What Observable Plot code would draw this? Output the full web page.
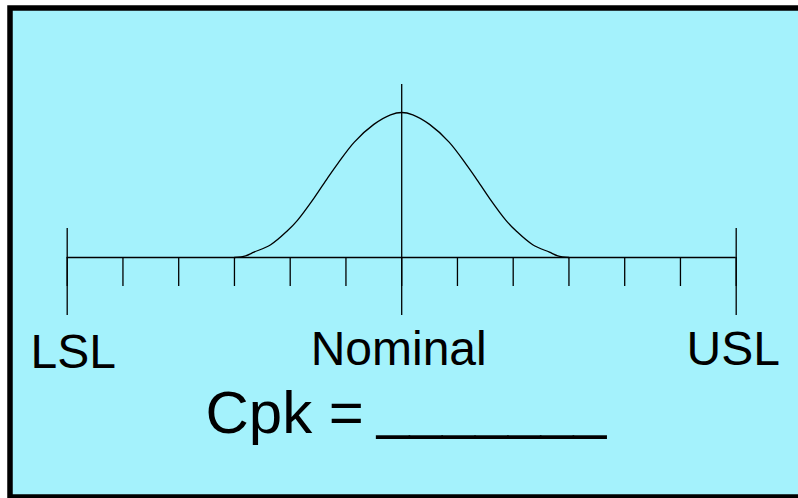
<!DOCTYPE html>
<html>
<head>
<meta charset="utf-8">
<script src="https://cdn.jsdelivr.net/npm/d3@7"></script>
<script src="https://cdn.jsdelivr.net/npm/@observablehq/plot@0.6"></script>
<style>
  html, body { margin: 0; padding: 0; background: white; overflow: hidden; }
  #chart { width: 798px; height: 498px; overflow: hidden; }
</style>
</head>
<body>
<div id="chart"></div>
<script>
// Spec scale positions (in tick intervals from nominal)
const tickPositions = [-6, -5, -4, -3, -2, -1, 0, 1, 2, 3, 4, 5, 6];
const limitPositions = [-6, 6];
const nominalPosition = [0];

// Labels
const leftLabel = ["LSL"];
const centerLabels = ["Nominal", "USL"];
const centerLabelX = [0, 6];
const cpkLabel = ["Cpk ="];
const blankLabel = ["_______"];

// Bell curve (relative height, peak = 1)
const curveX = [-3, -2.8, -2.65, -2.35, -2.05, -1.87, -1.57, -1.33, -1.15, -0.85, -0.5, -0.2, 0,
                0.2, 0.5, 0.85, 1.15, 1.33, 1.57, 1.87, 2.05, 2.35, 2.65, 2.8, 3];
const curveY = [0, 0.012, 0.037, 0.088, 0.184, 0.256, 0.411, 0.548, 0.646, 0.796, 0.918, 0.984, 1,
                0.984, 0.918, 0.796, 0.646, 0.548, 0.411, 0.256, 0.184, 0.088, 0.037, 0.012, 0];

const curve = curveX.map((x, i) => ({x, y: curveY[i]}));
const font = "'Liberation Sans', Arial, Helvetica, sans-serif";

const chart = Plot.plot({
  width: 798,
  height: 498,
  marginLeft: 9.5,
  marginTop: 7.5,
  marginRight: -8,
  marginBottom: 1.5,
  x: {domain: [-6, 6], range: [66.7, 735.7], axis: null},
  y: {domain: [0, 1], range: [257, 112], axis: null},
  style: {background: "white", fontFamily: font, overflow: "hidden", color: "black"},
  marks: [
    Plot.frame({fill: "#A4F2FC", stroke: "black", strokeWidth: 5.5}),
    // baseline
    Plot.ruleY([0], {x1: -6, x2: 6, stroke: "black", strokeWidth: 1.3}),
    // short ticks
    Plot.ruleX(tickPositions, {y1: 0, y2: -0.2, stroke: "black", strokeWidth: 1.3}),
    // LSL / USL long ticks
    Plot.ruleX(limitPositions, {y1: 0.2, y2: -0.4, stroke: "black", strokeWidth: 1.3}),
    // nominal line
    Plot.ruleX(nominalPosition, {y1: 1.193, y2: -0.4, stroke: "black", strokeWidth: 1.3}),
    // bell curve
    Plot.line(curve, {x: "x", y: "y", curve: "catmull-rom", stroke: "black", strokeWidth: 1.3}),
    // labels
    Plot.text(leftLabel, {x: [-6], y: -0.759, text: d => d, dx: 6, lineAnchor: "bottom",
      fontSize: 48, fill: "black", fontFamily: font}),
    Plot.text(centerLabels, {x: centerLabelX, y: -0.738, text: d => d, dx: -3, lineAnchor: "bottom",
      fontSize: 48, fill: "black", fontFamily: font}),
    Plot.text(cpkLabel, {x: -3.52, y: -1.207, text: d => d, textAnchor: "start", lineAnchor: "bottom",
      fontSize: 60, fill: "black", fontFamily: font}),
    Plot.text(blankLabel, {x: -0.448, y: -1.17, text: d => d, textAnchor: "start", lineAnchor: "bottom",
      fontSize: 59, fill: "black", fontFamily: font})
  ]
});
document.getElementById("chart").appendChild(chart);
</script>
</body>
</html>
